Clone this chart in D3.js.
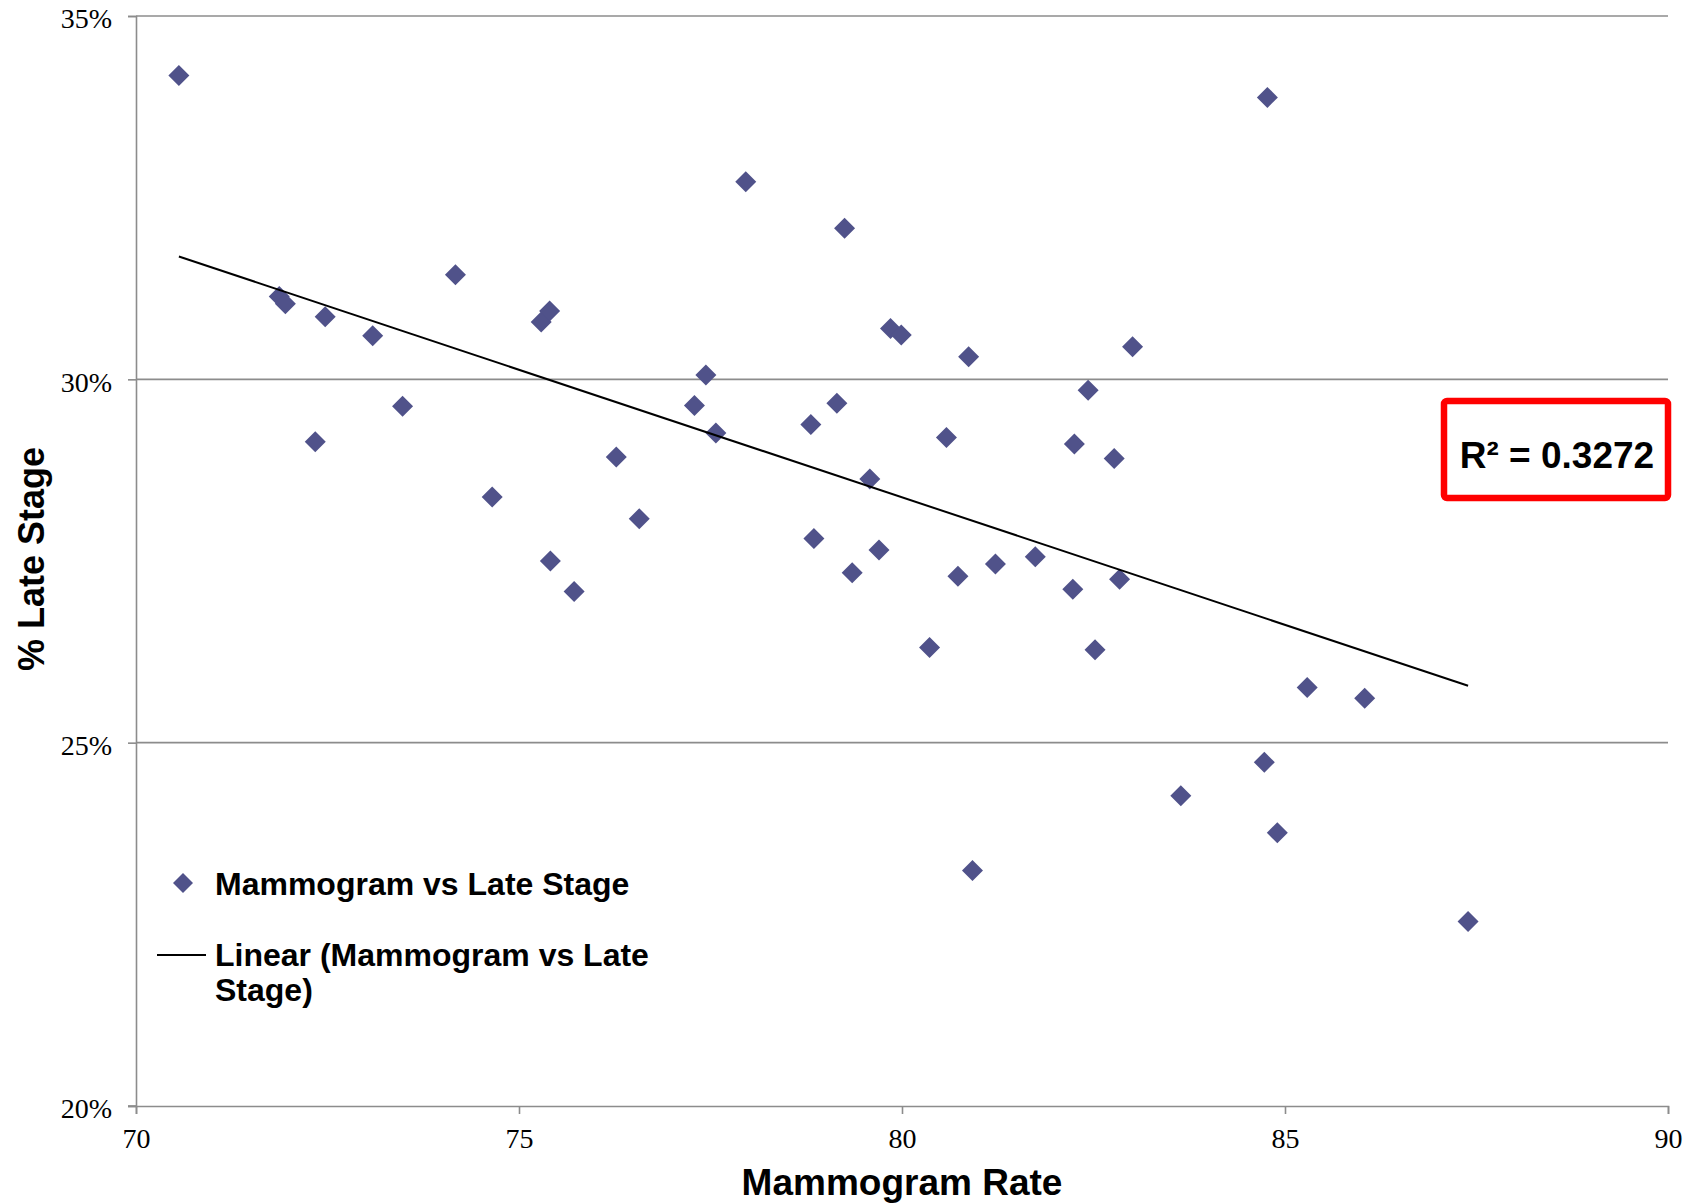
<!DOCTYPE html>
<html>
<head>
<meta charset="utf-8">
<script src="https://cdn.jsdelivr.net/npm/d3@7"></script>
<style>
  html, body { margin: 0; padding: 0; background: #ffffff; }
  svg { display: block; }
</style>
</head>
<body>
<svg id="chart" width="1693" height="1204"></svg>
<script>
// ---- Data ----
const mammogramRate = [
  70.56, 71.87, 71.95, 72.47, 73.09, 72.34, 73.48, 74.17, 74.65, 75.29,
  75.40, 75.41, 75.72, 76.27, 76.57, 77.29, 77.44, 77.57, 77.96, 78.81,
  78.85, 79.15, 79.25, 79.35, 79.58, 79.70, 79.85, 79.99, 80.36, 80.58,
  80.73, 80.87, 80.92, 81.22, 81.74, 82.23, 82.25, 82.43, 82.52, 82.77,
  82.84, 83.01, 83.64, 84.73, 84.77, 84.90, 85.29, 86.04, 87.39
];
const lateStagePct = [
  34.18, 31.14, 31.04, 30.86, 30.60, 29.14, 29.63, 31.44, 28.38, 30.79,
  30.94, 27.50, 27.08, 28.93, 28.08, 29.64, 30.06, 29.26, 32.72, 29.38,
  27.81, 29.67, 32.08, 27.34, 28.63, 27.65, 30.70, 30.61, 26.31, 29.20,
  27.29, 30.31, 23.24, 27.46, 27.56, 27.11, 29.11, 29.85, 26.28, 28.91,
  27.25, 30.45, 24.27, 24.73, 33.88, 23.76, 25.76, 25.61, 22.54
];
const xTickValues = [70, 75, 80, 85, 90];
const yTickValues = [20, 25, 30, 35];
const seriesName = "Mammogram vs Late Stage";
const trendName = ["Linear (Mammogram vs Late", "Stage)"];
const rSquaredLabel = "R\u00B2 = 0.3272";
const xTitle = "Mammogram Rate";
const yTitle = "% Late Stage";

// ---- Layout ----
const plot = { left: 136, top: 16, right: 1668, bottom: 1106 };
const markerColor = "#50528A";
const gridColor = "#8C8C8C";

const svg = d3.select("#chart");

const x = d3.scaleLinear().domain([70, 90]).range([plot.left, plot.right]);
const y = d3.scaleLinear().domain([20, 35]).range([plot.bottom, plot.top]);

// Horizontal gridlines
svg.append("g")
  .selectAll("line")
  .data(yTickValues.filter(v => v !== 20))
  .join("line")
  .attr("x1", plot.left).attr("x2", plot.right)
  .attr("y1", d => y(d)).attr("y2", d => y(d))
  .attr("stroke", gridColor).attr("stroke-width", 1.6);

// Y axis
const yAxis = d3.axisLeft(y).tickValues(yTickValues).tickSize(8).tickPadding(16)
  .tickFormat(d => d + "%");
const gy = svg.append("g").attr("transform", `translate(${plot.left},0)`).call(yAxis);
gy.select(".domain").attr("stroke", gridColor).attr("stroke-width", 1.6);
gy.selectAll(".tick line").attr("stroke", gridColor).attr("stroke-width", 1.6);
gy.selectAll(".tick text")
  .attr("font-family", "'Liberation Serif', 'Times New Roman', serif")
  .attr("font-size", 28).attr("fill", "#000").attr("dy", "0.42em");

// X axis
const xAxis = d3.axisBottom(x).tickValues(xTickValues).tickSize(8).tickPadding(14)
  .tickFormat(d3.format("d"));
const gx = svg.append("g").attr("transform", `translate(0,${plot.bottom})`).call(xAxis);
gx.select(".domain").attr("stroke", gridColor).attr("stroke-width", 1.6);
gx.selectAll(".tick line").attr("stroke", gridColor).attr("stroke-width", 1.6);
gx.selectAll(".tick text")
  .attr("font-family", "'Liberation Serif', 'Times New Roman', serif")
  .attr("font-size", 28).attr("fill", "#000");
// y-axis tick at 20% left of origin
svg.append("line")
  .attr("x1", plot.left - 8).attr("x2", plot.left)
  .attr("y1", y(20)).attr("y2", y(20))
  .attr("stroke", gridColor).attr("stroke-width", 1.6);

// Linear trendline (least squares from the data)
const n = mammogramRate.length;
const mx = d3.mean(mammogramRate), my = d3.mean(lateStagePct);
let sxy = 0, sxx = 0;
for (let i = 0; i < n; i++) {
  sxy += (mammogramRate[i] - mx) * (lateStagePct[i] - my);
  sxx += (mammogramRate[i] - mx) ** 2;
}
const slope = sxy / sxx, intercept = my - slope * mx;
const xExt = d3.extent(mammogramRate);
const trendPts = xExt.map(v => [v, intercept + slope * v]);

// Diamond path generator
const diamond = r => `M0,${-r}L${r},0L0,${r}L${-r},0Z`;

// Points
svg.append("g")
  .selectAll("path")
  .data(mammogramRate.map((v, i) => [v, lateStagePct[i]]))
  .join("path")
  .attr("d", diamond(10.5))
  .attr("transform", d => `translate(${x(d[0])},${y(d[1])})`)
  .attr("fill", markerColor);

svg.append("path")
  .datum(trendPts)
  .attr("d", d3.line().x(d => x(d[0])).y(d => y(d[1])))
  .attr("fill", "none").attr("stroke", "#000").attr("stroke-width", 2);

// Axis titles
const sansBold = "'Liberation Sans', Arial, Helvetica, sans-serif";
svg.append("text")
  .attr("x", (plot.left + plot.right) / 2).attr("y", 1195)
  .attr("text-anchor", "middle")
  .attr("font-family", sansBold).attr("font-weight", "bold").attr("font-size", 37)
  .text(xTitle);

svg.append("text")
  .attr("transform", `translate(44,${(plot.top + plot.bottom) / 2 - 2}) rotate(-90)`)
  .attr("text-anchor", "middle")
  .attr("font-family", sansBold).attr("font-weight", "bold").attr("font-size", 36)
  .text(yTitle);

// Legend
const legend = svg.append("g");
legend.append("path").attr("d", diamond(10))
  .attr("transform", "translate(183,883)").attr("fill", markerColor);
legend.append("text").attr("x", 215).attr("y", 895)
  .attr("font-family", sansBold).attr("font-weight", "bold").attr("font-size", 32)
  .text(seriesName);
legend.append("line").attr("x1", 157).attr("x2", 206).attr("y1", 955).attr("y2", 955)
  .attr("stroke", "#000").attr("stroke-width", 2);
legend.append("text")
  .attr("font-family", sansBold).attr("font-weight", "bold").attr("font-size", 32)
  .selectAll("tspan").data(trendName).join("tspan")
  .attr("x", 215).attr("y", (d, i) => 966 + i * 35)
  .text(d => d);

// R² annotation box
svg.append("rect")
  .attr("x", 1444).attr("y", 401).attr("width", 224).attr("height", 97)
  .attr("rx", 3).attr("ry", 3)
  .attr("fill", "#fff").attr("stroke", "#FF0000").attr("stroke-width", 6.5);
svg.append("text")
  .attr("x", 1557).attr("y", 468).attr("text-anchor", "middle")
  .attr("font-family", sansBold).attr("font-weight", "bold").attr("font-size", 37)
  .text(rSquaredLabel);
</script>
</body>
</html>
